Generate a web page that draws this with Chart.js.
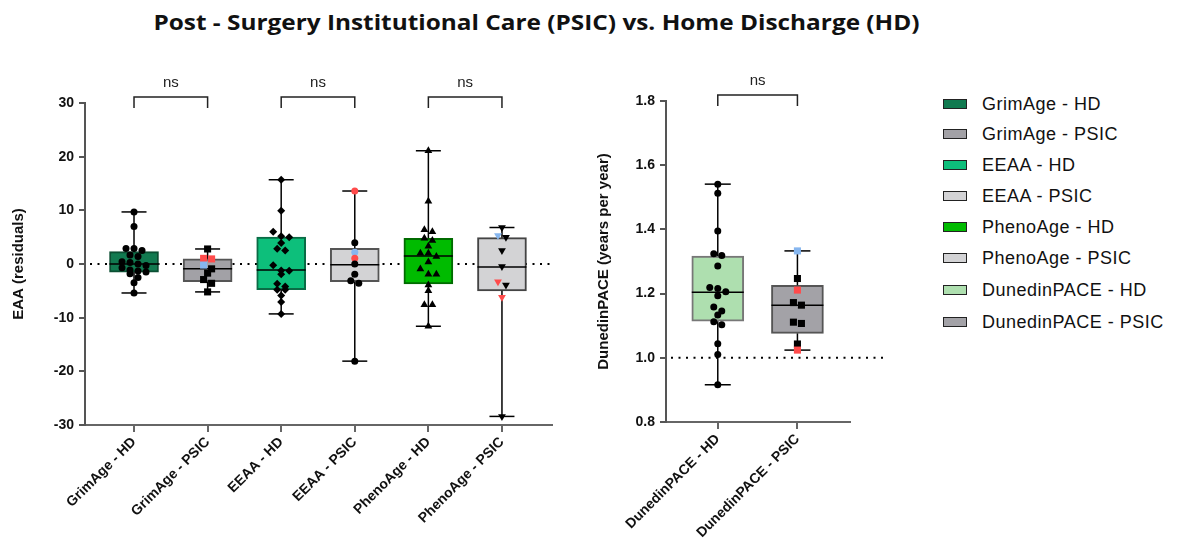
<!DOCTYPE html>
<html>
<head>
<meta charset="utf-8">
<script src="https://cdn.jsdelivr.net/npm/chart.js@4.4.1/dist/chart.umd.min.js"></script>
<style>
    body { margin: 0; background: #fff; width: 1177px; height: 547px; position: relative; overflow: hidden; font-family: 'Liberation Sans', Arial, sans-serif; }
    #title { position: absolute; left: 0; width: 1073px; top: 8px; text-align: center; font: 700 21px/28px 'Open Sans', sans-serif; color: #111; transform: scaleX(1.16); transform-origin: 536.5px 50%; }
    canvas { position: absolute; top: 0; }
    #left { left: 0; }
    #right { left: 585px; }
    .leg { position: absolute; left: 943px; height: 0; }
    .sw { position: absolute; left: 0; top: -5px; width: 22px; height: 8px; border: 1px solid #222; }
    .lt { position: absolute; left: 39px; top: -11px; font-size: 18px; line-height: 22px; white-space: nowrap; color: #111; letter-spacing: 0.5px; }
</style>
</head>
<body>
<div id="title">Post - Surgery Institutional Care (PSIC) vs. Home Discharge (HD)</div>
<canvas id="left" width="585" height="547"></canvas>
<canvas id="right" width="320" height="547"></canvas>
<div id="legend"></div>
<script>
// Panel links: EAA (residuals)
const leftCats = ['GrimAge - HD', 'GrimAge - PSIC', 'EEAA - HD', 'EEAA - PSIC', 'PhenoAge - HD', 'PhenoAge - PSIC'];
const leftQ1  = [-1.5, -3.3, -4.8, -3.3, -3.7, -5.0];
const leftMed = [0.0, -0.9, -1.1, -0.15, 1.5, -0.55];
const leftQ3  = [2.3, 0.95, 5.0, 2.9, 4.8, 4.9];
const leftMin = [-5.4, -5.2, -9.3, -18.1, -11.6, -28.4];
const leftMax = [9.7, 2.8, 15.7, 13.6, 21.1, 6.8];

const grimHD   = [9.7, 7.0, 2.9, 2.9, 2.5, 1.7, 1.4, 0.4, 0.3, 0.0, -0.3, -0.7, -1.1, -1.3, -1.5, -1.8, -2.5, -3.5, -5.4];
const grimPSIC = [2.8, 1.05, 0.95, -0.2, -0.9, -1.7, -2.9, -3.6, -5.2];
const grimPSICTag = ['k', 'r', 'r', 'b', 'k', 'k', 'k', 'k', 'k'];
const eeaaHD   = [15.7, 9.9, 6.0, 5.15, 5.0, 3.9, 2.85, 2.5, -0.25, -1.2, -1.25, -1.9, -3.7, -4.2, -4.8, -4.8, -5.85, -7.1, -9.3];
const eeaaPSIC = [13.6, 3.97, 2.2, 1.05, 0.0, -1.9, -3.1, -3.6, -18.1];
const eeaaPSICTag = ['r', 'k', 'b', 'r', 'k', 'k', 'k', 'k', 'k'];
const phenoHD   = [21.1, 11.7, 6.4, 6.0, 4.8, 4.4, 3.3, 2.0, 2.0, 1.4, 0.37, -0.93, -1.9, -1.9, -3.9, -5.0, -7.6, -7.6, -11.6];
const phenoPSIC = [6.8, 5.0, 5.3, 2.5, -0.45, -3.3, -3.9, -6.2, -28.4];
const phenoPSICTag = ['k', 'k', 'b', 'k', 'k', 'r', 'k', 'r', 'k'];

// Panel rechts: DunedinPACE
const rightCats = ['DunedinPACE - HD', 'DunedinPACE - PSIC'];
const rightQ1  = [1.114, 1.076];
const rightMed = [1.204, 1.164];
const rightQ3  = [1.317, 1.226];
const rightMin = [0.916, 1.024];
const rightMax = [1.541, 1.333];

const dpHD   = [1.541, 1.513, 1.395, 1.324, 1.319, 1.286, 1.219, 1.216, 1.206, 1.193, 1.158, 1.146, 1.133, 1.112, 1.103, 1.044, 1.010, 0.916];
const dpPSIC = [1.333, 1.247, 1.211, 1.172, 1.164, 1.111, 1.107, 1.043, 1.024];
const dpPSICTag = ['b', 'k', 'r', 'k', 'k', 'k', 'k', 'k', 'r'];

const leftTicks = [-30, -20, -10, 0, 10, 20, 30];
const rightTicks = [0.8, 1.0, 1.2, 1.4, 1.6, 1.8];

// kleuren
const tagColor = { k: '#000000', r: '#ff4b4b', b: '#86b6ef' };
const leftFill   = ['#117a50', '#a2a1a6', '#0dbf7b', '#d3d3d5', '#00bb00', '#d3d3d5'];
const leftBorder = ['#0b4f33', '#555555', '#0a6b45', '#555555', '#006b00', '#444444'];
const rightFill   = ['#aedfaf', '#a3a2a7'];
const rightBorder = ['#777777', '#555555'];

Chart.defaults.font.family = "'Liberation Sans', Arial, sans-serif";
Chart.defaults.color = '#111';

// simpele swarm: punten in rijen groeperen en rond het midden spreiden
function swarm(vals, pxPerUnit, step) {
    const idx = vals.map((v, i) => i).sort((a, b) => vals[b] - vals[a]);
    const off = new Array(vals.length).fill(0);
    let row = [];
    const flush = () => {
        row.forEach((k, j) => { off[k] = (j - (row.length - 1) / 2) * step; });
        row = [];
    };
    idx.forEach(k => {
        if (row.length && (vals[row[0]] - vals[k]) * pxPerUnit > 5.5) flush();
        row.push(k);
    });
    flush();
    return off;
}

function boxExtras(p) {
    const seg = (ctx, x1, y1, x2, y2) => { ctx.beginPath(); ctx.moveTo(x1, y1); ctx.lineTo(x2, y2); ctx.stroke(); };
    return {
        id: 'boxExtras',
        beforeDatasetsDraw(chart) {
            const { ctx, chartArea: a, scales: { y } } = chart;
            const py = y.getPixelForValue(p.refY);
            ctx.save();
            ctx.strokeStyle = '#000';
            ctx.lineWidth = 2;
            ctx.setLineDash([2, 5.5]);
            seg(ctx, a.left + 5, py, a.right + p.refExtra, py);
            ctx.restore();
        },
        afterDatasetDraw(chart, args) {
            if (args.meta.type !== 'bar') return;
            const { ctx, scales: { x, y } } = chart;
            ctx.save();
            ctx.strokeStyle = '#000';
            ctx.lineWidth = 1.5;
            p.med.forEach((m, i) => {
                const cx = x.getPixelForValue(i);
                const hw = p.boxW / 2, cw = p.capW / 2;
                const yMed = y.getPixelForValue(m), yHi = y.getPixelForValue(p.hi[i]), yLo = y.getPixelForValue(p.lo[i]);
                seg(ctx, cx - hw, yMed, cx + hw, yMed);
                seg(ctx, cx, y.getPixelForValue(p.q3[i]), cx, yHi);
                seg(ctx, cx, y.getPixelForValue(p.q1[i]), cx, yLo);
                seg(ctx, cx - cw, yHi, cx + cw, yHi);
                seg(ctx, cx - cw, yLo, cx + cw, yLo);
            });
            ctx.restore();
        },
        afterDraw(chart) {
            const { ctx, chartArea: a, scales: { x } } = chart;
            ctx.save();
            ctx.strokeStyle = '#222';
            ctx.lineWidth = 1.5;
            ctx.fillStyle = '#222';
            ctx.font = "15px 'Liberation Sans', Arial, sans-serif";
            ctx.textAlign = 'center';
            ctx.textBaseline = 'middle';
            p.pairs.forEach(([i, j]) => {
                const x1 = x.getPixelForValue(i), x2 = x.getPixelForValue(j);
                ctx.beginPath();
                ctx.moveTo(x1, a.top + 5);
                ctx.lineTo(x1, a.top - 6);
                ctx.lineTo(x2, a.top - 6);
                ctx.lineTo(x2, a.top + 5);
                ctx.stroke();
                ctx.fillText('ns', (x1 + x2) / 2, a.top - 20);
            });
            ctx.restore();
        }
    };
}

function makePanel(id, p) {
    const pxPerUnit = (p.areaBottom - p.padTop) / (p.yMax - p.yMin);
    const step = 8 / p.pxPerX;
    const datasets = [{
        type: 'bar',
        data: p.cats.map((c, i) => ({ x: i, y: [p.q1[i], p.q3[i]] })),
        backgroundColor: p.fill,
        borderColor: p.border,
        borderWidth: 2,
        borderSkipped: false,
        barThickness: p.boxW,
        order: 10
    }];
    p.groups.forEach((g, gi) => {
        const off = swarm(g.vals, pxPerUnit, step);
        const cols = g.vals.map((v, i) => tagColor[g.tags ? g.tags[i] : 'k']);
        datasets.push({
            type: 'scatter',
            data: g.vals.map((v, i) => ({ x: gi + off[i], y: v })),
            pointStyle: g.style,
            pointRadius: g.radius,
            pointRotation: g.rotation || 0,
            pointBackgroundColor: cols,
            pointBorderColor: cols,
            pointBorderWidth: 0,
            order: 0
        });
    });

    return new Chart(document.getElementById(id), {
        type: 'bar',
        data: { datasets },
        options: {
            responsive: false,
            animation: false,
            layout: { padding: { top: p.padTop, right: p.padRight, left: 0, bottom: 0 } },
            plugins: { legend: { display: false }, tooltip: { enabled: false } },
            scales: {
                x: {
                    type: 'linear',
                    offset: false,
                    min: p.xMin,
                    max: p.xMax,
                    afterBuildTicks: s => { s.ticks = p.cats.map((c, i) => ({ value: i })); },
                    afterFit: s => { s.height = p.xH; },
                    ticks: {
                        autoSkip: false, minRotation: 45, maxRotation: 45, padding: 2,
                        font: { weight: 'bold', size: 14 },
                        callback: v => p.cats[v]
                    },
                    grid: { offset: false, drawOnChartArea: false, tickLength: 7, color: '#666', lineWidth: 2 },
                    border: { color: '#666', width: 2 }
                },
                y: {
                    min: p.yMin,
                    max: p.yMax,
                    afterBuildTicks: s => { s.ticks = p.yTicks.map(v => ({ value: v })); },
                    afterFit: s => { s.width = p.yW; },
                    ticks: {
                        padding: 5,
                        font: { weight: 'bold', size: 14 },
                        callback: v => p.fmt(v)
                    },
                    grid: { drawOnChartArea: false, tickLength: 6, color: '#555', lineWidth: 2 },
                    border: { color: '#555', width: 2 },
                    title: { display: true, text: p.yTitle, font: { weight: 'bold', size: 15 }, padding: { top: 10 } }
                }
            }
        },
        plugins: [boxExtras(p)]
    });
}

makePanel('left', {
    cats: leftCats, q1: leftQ1, med: leftMed, q3: leftQ3, lo: leftMin, hi: leftMax,
    groups: [
        { vals: grimHD, style: 'circle', radius: 3.5 },
        { vals: grimPSIC, tags: grimPSICTag, style: 'rect', radius: 5 },
        { vals: eeaaHD, style: 'rectRot', radius: 4 },
        { vals: eeaaPSIC, tags: eeaaPSICTag, style: 'circle', radius: 3.5 },
        { vals: phenoHD, style: 'triangle', radius: 4.5 },
        { vals: phenoPSIC, tags: phenoPSICTag, style: 'triangle', radius: 4.5, rotation: 180 }
    ],
    fill: leftFill, border: leftBorder,
    yMin: -30, yMax: 30, yTicks: leftTicks, fmt: v => String(v), yTitle: 'EAA (residuals)',
    xMin: -0.666, xMax: 5.68, pxPerX: 73.6,
    padTop: 103, padRight: 33, areaBottom: 425, xH: 122, yW: 85,
    boxW: 49, capW: 25, refY: 0, refExtra: 0,
    pairs: [[0, 1], [2, 3], [4, 5]]
});

makePanel('right', {
    cats: rightCats, q1: rightQ1, med: rightMed, q3: rightQ3, lo: rightMin, hi: rightMax,
    groups: [
        { vals: dpHD, style: 'circle', radius: 3.5 },
        { vals: dpPSIC, tags: dpPSICTag, style: 'rect', radius: 5 }
    ],
    fill: rightFill, border: rightBorder,
    yMin: 0.8, yMax: 1.8, yTicks: rightTicks, fmt: v => v.toFixed(1), yTitle: 'DunedinPACE (years per year)',
    xMin: -0.65, xMax: 1.66, pxPerX: 79.6,
    padTop: 101, padRight: 55, areaBottom: 422, xH: 125, yW: 81,
    boxW: 52, capW: 26, refY: 1.0, refExtra: 34,
    pairs: [[0, 1]]
});

// legenda
const legNames = leftCats.concat(rightCats);
const legFill = leftFill.concat(rightFill);
const legRows = [104, 134, 165, 196, 227, 258, 290, 322];
const legend = document.getElementById('legend');
legNames.forEach((name, i) => {
    const row = document.createElement('div');
    row.className = 'leg';
    row.style.top = legRows[i] + 'px';
    row.innerHTML = `<div class="sw" style="background:${legFill[i]}"></div><div class="lt">${name}</div>`;
    legend.appendChild(row);
});
</script>
</body>
</html>
